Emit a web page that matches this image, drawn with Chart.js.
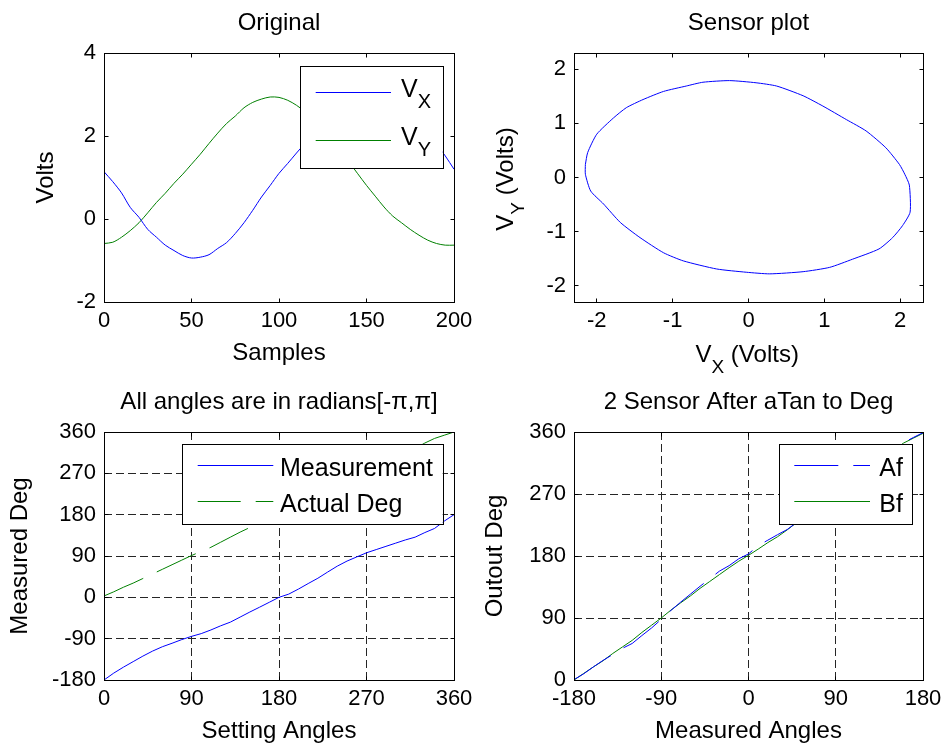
<!DOCTYPE html>
<html>
<head>
<meta charset="utf-8">
<script src="https://cdn.jsdelivr.net/npm/chart.js@4.4.1/dist/chart.umd.min.js"></script>
<style>
html, body { margin: 0; padding: 0; background: #fff; }
#wrap { position: relative; width: 947px; height: 745px; overflow: hidden; background: #fff; }
#wrap canvas { position: absolute; left: 0; top: 0; }
</style>
</head>
<body>
<div id="wrap">
  <canvas id="c1" width="947" height="745"></canvas>
  <canvas id="c2" width="947" height="745"></canvas>
  <canvas id="c3" width="947" height="745"></canvas>
  <canvas id="c4" width="947" height="745"></canvas>
</div>
<script>
// ---------------- DATA ----------------
// Panel 1: Original
const samples = [0,5,10,15,20,25,30,35,40,45,50,55,60,65,70,75,80,85,90,95,100,105,110,115,120,125,130,135,140,145,150,155,160,165,170,175,180,185,190,195,200];
const vxVolts = [1.14,0.90,0.63,0.28,0.04,-0.25,-0.44,-0.63,-0.76,-0.88,-0.94,-0.92,-0.86,-0.71,-0.57,-0.35,-0.09,0.21,0.53,0.81,1.10,1.34,1.59,1.83,2.07,2.29,2.48,2.65,2.79,2.88,2.96,2.97,2.93,2.84,2.70,2.50,2.28,2.03,1.80,1.52,1.20];
const vyVolts = [-0.59,-0.56,-0.44,-0.28,-0.09,0.15,0.40,0.62,0.86,1.08,1.32,1.56,1.82,2.07,2.30,2.48,2.68,2.81,2.89,2.94,2.93,2.86,2.74,2.58,2.38,2.14,1.88,1.62,1.37,1.09,0.81,0.55,0.29,0.07,-0.09,-0.25,-0.39,-0.51,-0.59,-0.63,-0.63];
const origXTicks = [0,50,100,150,200];
const origYTicks = [-2,0,2,4];

// Panel 2: Sensor plot
const sensorVx = [-2.15,-2.12,-2.00,-1.78,-1.61,-1.39,-1.12,-0.82,-0.60,-0.25,0.10,0.37,0.72,0.98,1.29,1.55,1.81,1.99,2.06,2.12,2.13,2.03,1.90,1.72,1.37,1.07,0.72,0.28,-0.03,-0.42,-0.86,-1.12,-1.43,-1.69,-1.91,-2.08,-2.15,-2.15];
const sensorVy = [0.24,0.46,0.80,1.10,1.29,1.44,1.59,1.69,1.76,1.79,1.75,1.69,1.51,1.32,1.07,0.86,0.55,0.24,0.06,-0.14,-0.64,-0.89,-1.11,-1.32,-1.51,-1.66,-1.74,-1.78,-1.75,-1.69,-1.54,-1.39,-1.11,-0.83,-0.49,-0.25,0.06,0.24];
const sensorXTicks = [-2,-1,0,1,2];
const sensorYTicks = [-2,-1,0,1,2];

// Panel 3: All angles are in radians
const settingAngles = [0,10,20,30,40,50,60,70,80,90,100,110,120,130,140,150,160,170,180,190,200,210,220,230,240,250,260,270,280,290,300,310,320,330,340,350,360];
const measurementDeg = [-180,-165,-152,-140,-128,-117,-107.6,-100,-92,-85,-79,-71,-62,-54,-43,-32,-21.5,-10.8,0,7,18,30,41.6,55,68,79,88,97,104,111,118,125,131,141,150,166,180];
const actualDeg = [3,12,22,31,41,51,61,71,81,91,100,109,120,131,142,152,162,172,182,192,202,212,222,232,242,252,262,272,282,292,302,313,324,336,346,353,360];
const angXTicks = [0,90,180,270,360];
const angYTicks = [-180,-90,0,90,180,270,360];

// Panel 4: 2 Sensor After aTan to Deg
const measuredAngles = [-180,-170,-160,-150,-140,-130,-120,-110,-100,-90,-80,-70,-60,-50,-40,-30,-20,-10,0,10,20,30,40,50,60,70,80,90,100,110,120,130,140,150,160,170,180];
const afDeg = [0.5,9,19,28.5,37,46,53,64.5,75.5,88,101,113,124.5,136,147,158,166,176,183,195,203,211,218.5,229,239.5,250,260.5,271,281.5,292,302.5,313,323.5,334,344.5,352,359];
const bfDeg = [0,9.5,19,28,38.5,48,57.5,69,79.5,90,101.5,112,122,133,143,153,163,172.5,181,190,199.5,208,218,229,239.5,250,260.5,271,281.5,292,302.5,313,323.5,334,344,351,358];
const atanXTicks = [-180,-90,0,90,180];
const atanYTicks = [0,90,180,270,360];

// ---------------- STYLE / HELPERS ----------------
const FONT = "'Liberation Sans', Arial, Helvetica, sans-serif";
Chart.defaults.font.family = FONT;
Chart.defaults.color = '#000';
Chart.defaults.animation = false;

const BLUE = '#0000ff', GREEN = '#008000';

function pts(xs, ys) { return xs.map((x, i) => ({x: x, y: ys[i]})); }
function crisp(v) { return Math.round(v - 0.5) + 0.5; }

function drawRich(ctx, text, x, y, mainSize, subSize, subDrop, align) {
  const parts = [];
  for (let i = 0; i < text.length; i++) {
    if (text[i] === '_') { parts.push({t: text[i + 1], sub: true}); i++; }
    else if (parts.length && !parts[parts.length - 1].sub) parts[parts.length - 1].t += text[i];
    else parts.push({t: text[i], sub: false});
  }
  let w = 0;
  parts.forEach(p => { ctx.font = (p.sub ? subSize : mainSize) + 'px ' + FONT; p.w = ctx.measureText(p.t).width; w += p.w; });
  let cx = align === 'center' ? x - w / 2 : x;
  ctx.textAlign = 'left';
  ctx.textBaseline = 'alphabetic';
  ctx.fillStyle = '#000';
  parts.forEach(p => {
    ctx.font = (p.sub ? subSize : mainSize) + 'px ' + FONT;
    ctx.fillText(p.t, cx, p.sub ? y + subDrop : y);
    cx += p.w;
  });
}

// box + inward tick marks (MATLAB style)
const framePlugin = {
  id: 'mframe',
  afterDatasetsDraw(chart) {
    const {ctx, chartArea: a, scales} = chart;
    ctx.save();
    ctx.strokeStyle = '#000';
    ctx.lineWidth = 1;
    ctx.setLineDash([]);
    const L = crisp(a.left), R = crisp(a.right), T = crisp(a.top), B = crisp(a.bottom);
    const len = 4;
    ctx.beginPath();
    scales.x.ticks.forEach(t => {
      const px = crisp(scales.x.getPixelForValue(t.value));
      ctx.moveTo(px, B); ctx.lineTo(px, B - len);
      ctx.moveTo(px, T); ctx.lineTo(px, T + len);
    });
    scales.y.ticks.forEach(t => {
      const py = crisp(scales.y.getPixelForValue(t.value));
      ctx.moveTo(L, py); ctx.lineTo(L + len, py);
      ctx.moveTo(R, py); ctx.lineTo(R - len, py);
    });
    ctx.stroke();
    ctx.strokeRect(L, T, R - L, B - T);
    ctx.restore();
  }
};

// legend box drawn inside the axes (MATLAB style)
const legendPlugin = {
  id: 'mlegend',
  afterDatasetsDraw(chart, args, o) {
    if (!o || !o.w) return;
    const {ctx, chartArea: a} = chart;
    const x0 = a.right - o.right - o.w, y0 = a.top + o.top;
    ctx.save();
    ctx.fillStyle = '#fff';
    ctx.fillRect(x0, y0, o.w, o.h);
    ctx.strokeStyle = '#000';
    ctx.lineWidth = 1;
    ctx.strokeRect(crisp(x0), crisp(y0), Math.round(o.w), Math.round(o.h));
    chart.data.datasets.forEach((ds, i) => {
      const y = crisp(y0 + o.rows[i]);
      ctx.strokeStyle = ds.borderColor;
      ctx.lineWidth = 1;
      ctx.setLineDash(ds.borderDash || []);
      ctx.beginPath();
      ctx.moveTo(x0 + o.lineX0, y);
      ctx.lineTo(x0 + o.lineX1, y);
      ctx.stroke();
      ctx.setLineDash([]);
      drawRich(ctx, ds.label, x0 + o.textX, y + o.baseOff, o.size, o.subSize, o.subDrop, 'left');
    });
    ctx.restore();
  }
};

// axis labels with subscripts (V_X, V_Y)
const richAxisPlugin = {
  id: 'richAxis',
  afterDraw(chart, args, o) {
    if (!o || !o.x) return;
    const {ctx, chartArea: a} = chart;
    ctx.save();
    drawRich(ctx, o.x, (a.left + a.right) / 2 + o.xShift, a.bottom + o.xBase, 24, 19, 11, 'center');
    ctx.translate(a.left - o.yBase, (a.top + a.bottom) / 2 + o.yShift);
    ctx.rotate(-Math.PI / 2);
    drawRich(ctx, o.y, 0, 0, 24, 19, 11, 'center');
    ctx.restore();
  }
};

function linScale(min, max, tickVals, o) {
  return {
    type: 'linear',
    min: min, max: max,
    afterBuildTicks: s => { s.ticks = tickVals.map(v => ({value: v})); },
    afterFit: s => { if (o.width !== undefined) s.width = o.width; if (o.height !== undefined) s.height = o.height; },
    ticks: { font: {size: 22, lineHeight: o.tickLH || 1.2}, color: '#000', padding: o.tickPad, autoSkip: false, maxRotation: 0, callback: v => String(v) },
    grid: { display: !!o.grid, drawTicks: false, color: '#262626', lineWidth: 1 },
    border: { display: false, dash: [8, 4] },
    title: { display: !!o.title, text: o.title || '', color: '#000', font: {size: 24, lineHeight: 1.1}, padding: o.titlePad || 0 }
  };
}

function lineDs(label, xs, ys, color, dash, tension) {
  return { label: label, data: pts(xs, ys), borderColor: color, backgroundColor: color, borderWidth: 1,
           borderDash: dash || [], pointRadius: 0, tension: tension || 0, fill: false, showLine: true };
}

function makeChart(id, cfg) {
  return new Chart(document.getElementById(id), {
    type: 'line',
    data: { datasets: cfg.datasets },
    options: {
      responsive: false,
      animation: false,
      devicePixelRatio: 1,
      layout: { padding: cfg.pad },
      events: [],
      plugins: {
        legend: { display: false },
        tooltip: { enabled: false },
        title: { display: true, fullSize: false, text: cfg.title, color: '#000', font: {size: 24, weight: 'normal', lineHeight: 1.1}, padding: {top: 0, bottom: cfg.titleGap} },
        mlegend: cfg.legend || {},
        richAxis: cfg.rich || {}
      },
      scales: { x: cfg.x, y: cfg.y }
    },
    plugins: [framePlugin, legendPlugin, richAxisPlugin]
  });
}

// ---------------- CHARTS ----------------
makeChart('c1', {
  title: 'Original', titleGap: 16.4,
  pad: {left: 0, right: 493, top: 10.2, bottom: 373},
  datasets: [lineDs('V_X', samples, vxVolts, BLUE, null, 0.3), lineDs('V_Y', samples, vyVolts, GREEN, null, 0.3)],
  x: linScale(0, 200, origXTicks, {height: 70, tickPad: 5, tickLH: 1.28, title: 'Samples', titlePad: {top: 0, bottom: 5.8}}),
  y: linScale(-2, 4, origYTicks, {width: 104, tickPad: 8, title: 'Volts', titlePad: {top: 33.3, bottom: 0}}),
  legend: {right: 11.3, top: 13.7, w: 142.7, h: 102.3, rows: [25.6, 73.3], lineX0: 15.7, lineX1: 91, textX: 101, baseOff: 4.7, size: 25, subSize: 20, subDrop: 11}
});

makeChart('c2', {
  title: 'Sensor plot', titleGap: 16.4,
  pad: {left: 470, right: 24, top: 10.2, bottom: 373},
  datasets: [lineDs('Sensor', sensorVx, sensorVy, BLUE, null, 0.2)],
  x: linScale(-2.3, 2.3, sensorXTicks, {height: 70, tickPad: 5, tickLH: 1.28}),
  y: linScale(-2.3, 2.3, sensorYTicks, {width: 104, tickPad: 8}),
  rich: {x: 'V_X (Volts)', y: 'V_Y (Volts)', xBase: 59.7, xShift: -1.3, yBase: 61.3, yShift: 1.5}
});

makeChart('c3', {
  title: 'All angles are in radians[-\u03C0,\u03C0]', titleGap: 16.8,
  pad: {left: 0, right: 493, top: 388.8, bottom: 0},
  datasets: [lineDs('Measurement', settingAngles, measurementDeg, BLUE), lineDs('Actual Deg', settingAngles, actualDeg, GREEN, [43, 15])],
  x: linScale(0, 360, angXTicks, {height: 65, tickPad: 5, tickLH: 1.28, grid: true, title: 'Setting Angles', titlePad: {top: 0, bottom: 0}}),
  y: linScale(-180, 360, angYTicks, {width: 104, tickPad: 8, grid: true, title: 'Measured Deg', titlePad: {top: 7.3, bottom: 0}}),
  legend: {right: 11.3, top: 12.3, w: 260.7, h: 80, rows: [21, 57], lineX0: 15.7, lineX1: 91.3, textX: 98, baseOff: 10.5, size: 25, subSize: 20, subDrop: 11}
});

makeChart('c4', {
  title: '2 Sensor After aTan to Deg', titleGap: 16.8,
  pad: {left: 470, right: 24, top: 388.8, bottom: 0},
  datasets: [lineDs('Af', measuredAngles, afDeg, BLUE, [44, 15]), lineDs('Bf', measuredAngles, bfDeg, GREEN)],
  x: linScale(-180, 180, atanXTicks, {height: 65, tickPad: 5, tickLH: 1.28, grid: true, title: 'Measured Angles', titlePad: {top: 0, bottom: 0.8}}),
  y: linScale(0, 360, atanYTicks, {width: 104, tickPad: 8, grid: true, title: 'Outout Deg', titlePad: {top: 12.5, bottom: 0}}),
  legend: {right: 10.7, top: 12.3, w: 133, h: 80, rows: [21, 57], lineX0: 15, lineX1: 90.7, textX: 100, baseOff: 10.5, size: 25, subSize: 20, subDrop: 11}
});
</script>
</body>
</html>
